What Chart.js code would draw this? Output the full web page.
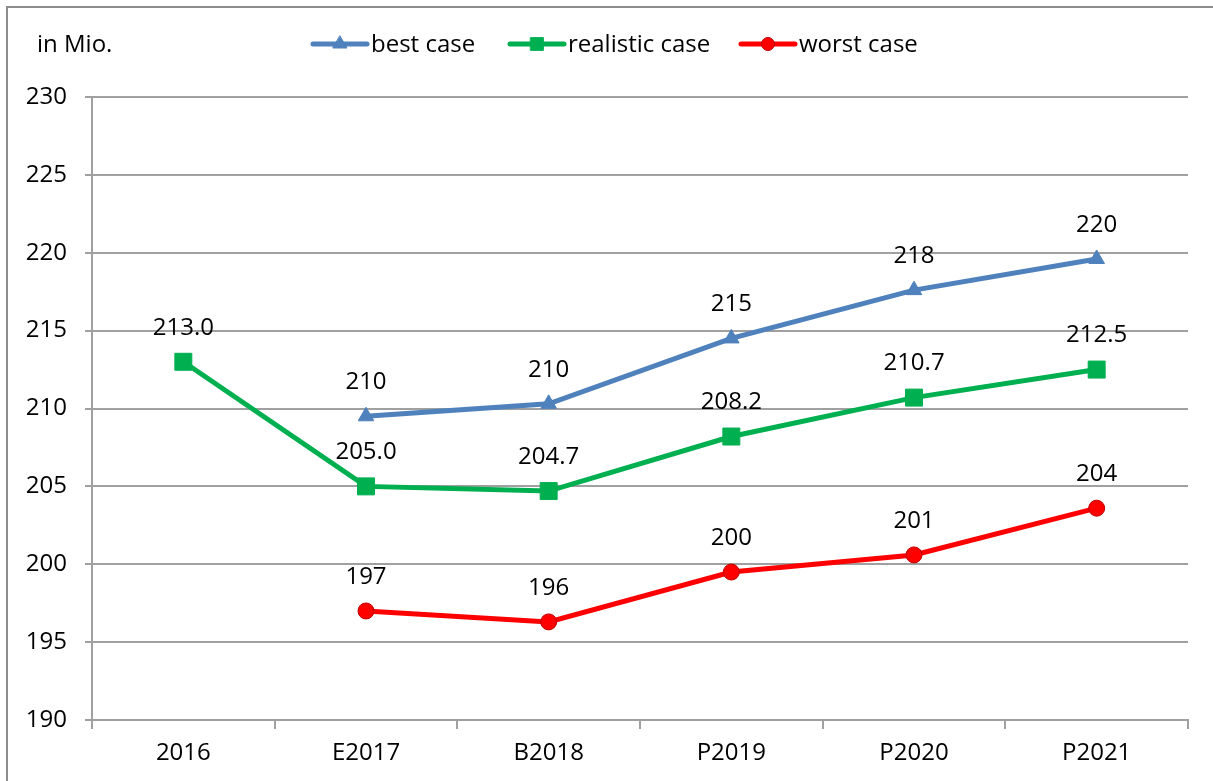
<!DOCTYPE html>
<html>
<head>
<meta charset="utf-8">
<script src="https://cdn.jsdelivr.net/npm/chart.js@4.4.1/dist/chart.umd.min.js"></script>
<style>
  html, body { margin: 0; padding: 0; background: #fff; }
  #wrap { width: 1213px; height: 781px; position: relative; }
</style>
</head>
<body>
<div id="wrap"><canvas id="scenario-chart" width="1213" height="781"></canvas></div>
<script>
const categories = ['2016', 'E2017', 'B2018', 'P2019', 'P2020', 'P2021'];
const bestCase = [null, 209.5, 210.3, 214.5, 217.6, 219.6];
const realisticCase = [213.0, 205.0, 204.7, 208.2, 210.7, 212.5];
const worstCase = [null, 197.0, 196.3, 199.5, 200.6, 203.6];
const yTicks = [190, 195, 200, 205, 210, 215, 220, 225, 230];

const FONT = "'Open Sans', 'DejaVu Sans', sans-serif";
const FONT_SIZE = 24;
const GRID = '#a0a0a0';

const series = [
    { label: 'best case', data: bestCase, color: '#4f81bd', border: '#4f81bd', style: 'triangle', radius: 9, legendRadius: 8, decimals: 0 },
    { label: 'realistic case', data: realisticCase, color: '#00b050', border: '#00b050', style: 'rect', radius: 12, legendRadius: 9, decimals: 1 },
    { label: 'worst case', data: worstCase, color: '#ff0000', border: '#c00000', style: 'circle', radius: 8, legendRadius: 6.5, decimals: 0 }
];

function drawMarker(ctx, s, radius, x, y) {
    ctx.save();
    ctx.fillStyle = s.color;
    ctx.strokeStyle = s.border;
    ctx.lineWidth = 1;
    Chart.helpers.drawPoint(ctx, { pointStyle: s.style, radius: radius, borderWidth: 1, rotation: 0 }, x, y);
    ctx.restore();
}

// frame, unit note, legend and value labels
const decorPlugin = {
    id: 'decor',
    beforeDraw(chart) {
        const ctx = chart.ctx;
        ctx.save();
        ctx.strokeStyle = '#8c8c8c';
        ctx.lineWidth = 2;
        ctx.beginPath();
        ctx.moveTo(7, 782);
        ctx.lineTo(7, 7);
        ctx.lineTo(1213, 7);
        ctx.stroke();
        ctx.restore();
    },
    afterDatasetsDraw(chart) {
        const ctx = chart.ctx;
        ctx.save();
        ctx.font = FONT_SIZE + 'px ' + FONT;
        ctx.fillStyle = '#000';
        ctx.textBaseline = 'middle';

        ctx.textAlign = 'left';
        ctx.fillText('in Mio.', 37, 45);

        // legend
        const legendX = [313, 510, 741];
        series.forEach((s, i) => {
            const x0 = legendX[i];
            ctx.strokeStyle = s.color;
            ctx.lineWidth = 5;
            ctx.lineCap = 'round';
            ctx.beginPath();
            ctx.moveTo(x0, 44);
            ctx.lineTo(x0 + 54, 44);
            ctx.stroke();
            drawMarker(ctx, s, s.legendRadius, x0 + 27, 44);
            ctx.fillStyle = '#000';
            ctx.fillText(s.label, x0 + 58, 45);
        });

        // value labels
        ctx.textAlign = 'center';
        chart.data.datasets.forEach((ds, di) => {
            const meta = chart.getDatasetMeta(di);
            const s = series[di];
            meta.data.forEach((pt, i) => {
                const v = ds.data[i];
                if (v === null) return;
                ctx.fillText(v.toFixed(s.decimals), pt.x, pt.y - 34);
            });
        });
        ctx.restore();
    }
};

new Chart(document.getElementById('scenario-chart'), {
    type: 'line',
    data: {
        labels: categories,
        datasets: series.map(s => ({
            label: s.label,
            data: s.data,
            borderColor: s.color,
            backgroundColor: s.color,
            borderWidth: 5,
            tension: 0,
            spanGaps: false,
            pointStyle: s.style,
            pointRadius: s.radius,
            pointBackgroundColor: s.color,
            pointBorderColor: s.border,
            pointBorderWidth: 1
        }))
    },
    options: {
        responsive: false,
        animation: false,
        layout: { padding: { left: 0, top: 97, right: 25, bottom: 0 } },
        plugins: {
            legend: { display: false },
            tooltip: { enabled: false }
        },
        scales: {
            x: {
                offset: true,
                afterFit(scale) { scale.height = 61; },
                grid: {
                    offset: true,
                    drawOnChartArea: false,
                    drawTicks: true,
                    tickLength: 9,
                    color: GRID,
                    lineWidth: 2
                },
                border: { color: GRID, width: 2 },
                ticks: {
                    font: { family: FONT, size: FONT_SIZE },
                    color: '#000',
                    padding: 10,
                    maxRotation: 0
                }
            },
            y: {
                min: 190,
                max: 230,
                afterFit(scale) { scale.width = 92; },
                afterBuildTicks(scale) { scale.ticks = yTicks.map(v => ({ value: v })); },
                grid: {
                    color: GRID,
                    lineWidth: 2,
                    tickLength: 7
                },
                border: { color: GRID, width: 2 },
                ticks: {
                    font: { family: FONT, size: FONT_SIZE },
                    color: '#000',
                    padding: 18
                }
            }
        }
    },
    plugins: [decorPlugin]
});
</script>
</body>
</html>
